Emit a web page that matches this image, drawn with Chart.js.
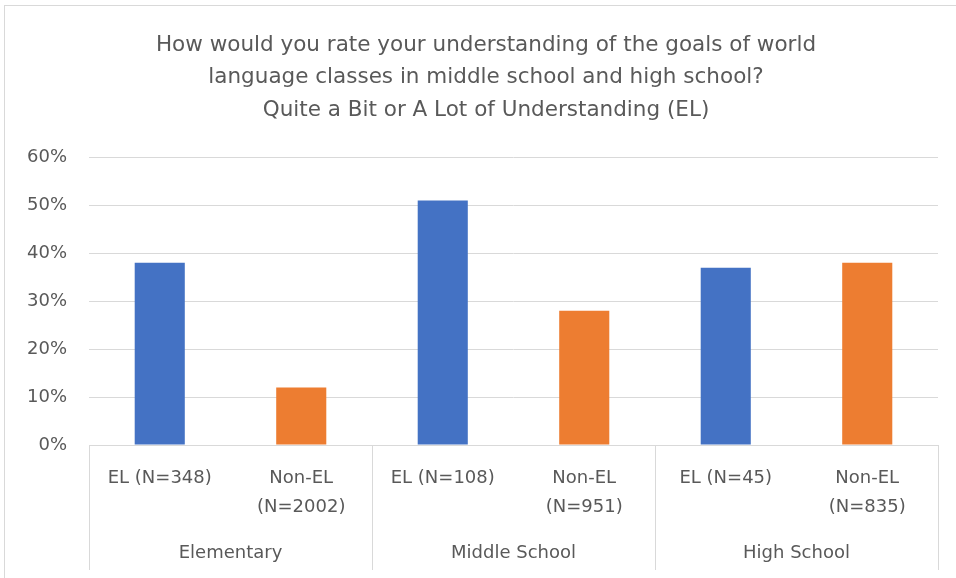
<!DOCTYPE html>
<html lang="en">
<head>
    <meta charset="UTF-8">
    <title>Understanding of world language goals (EL)</title>
    <script src="https://cdn.jsdelivr.net/npm/chart.js@4.4.1/dist/chart.umd.min.js"></script>
    <style>
        html, body {
            margin: 0;
            padding: 0;
            background: white;
            overflow: hidden;
        }
        .chart-box {
            position: absolute;
            left: 4px;
            top: 5px;
            width: 1000px;
            height: 620px;
            border: 1px solid #d9d9d9;
        }
    </style>
</head>
<body>
    <div class="chart-box">
        <canvas id="elChart" width="980" height="572"></canvas>
    </div>

    <script>
        // data
        const categories = [
            'EL (N=348)', ['Non-EL', '(N=2002)'],
            'EL (N=108)', ['Non-EL', '(N=951)'],
            'EL (N=45)', ['Non-EL', '(N=835)']
        ];
        const groups = ['Elementary', 'Middle School', 'High School'];
        const studentType = ['EL', 'Non-EL', 'EL', 'Non-EL', 'EL', 'Non-EL'];
        const values = [38, 12, 51, 28, 37, 38];
        const yTicks = [0, 10, 20, 30, 40, 50, 60];

        const typeColors = { 'EL': '#4472C4', 'Non-EL': '#ED7D31' };
        const textColor = '#595959';
        const fontFamily = '"DejaVu Sans", sans-serif';

        // vertical separators between the school groups
        const groupLines = {
            id: 'groupLines',
            afterDraw(chart) {
                const x = chart.scales.x;
                const x2 = chart.scales.x2;
                const ctx = chart.ctx;
                const per = categories.length / groups.length;
                ctx.save();
                ctx.strokeStyle = '#d9d9d9';
                ctx.lineWidth = 1;
                for (let g = 0; g <= groups.length; g++) {
                    let px;
                    if (g === 0) px = x.left;
                    else if (g === groups.length) px = x.right;
                    else px = (x.getPixelForTick(g * per - 1) + x.getPixelForTick(g * per)) / 2;
                    px = Math.round(px) + 0.5;
                    ctx.beginPath();
                    ctx.moveTo(px, chart.chartArea.bottom);
                    ctx.lineTo(px, x2.bottom + 6);
                    ctx.stroke();
                }
                ctx.restore();
            }
        };

        new Chart(document.getElementById('elChart'), {
            type: 'bar',
            data: {
                labels: categories,
                datasets: [{
                    data: values,
                    backgroundColor: studentType.map(t => typeColors[t]),
                    categoryPercentage: 1,
                    barPercentage: 0.354
                }]
            },
            options: {
                responsive: false,
                animation: false,
                layout: { padding: { left: 0, right: 18, top: 23, bottom: 14 } },
                plugins: {
                    legend: { display: false },
                    tooltip: { enabled: false },
                    title: {
                        display: true,
                        text: [
                            'How would you rate your understanding of the goals of world',
                            'language classes in middle school and high school?',
                            'Quite a Bit or A Lot of Understanding (EL)'
                        ],
                        color: textColor,
                        font: { family: fontFamily, size: 21.5, weight: 'normal', lineHeight: 1.51 },
                        padding: { top: 0, bottom: 31 }
                    }
                },
                scales: {
                    y: {
                        min: 0,
                        max: 60,
                        afterBuildTicks: s => { s.ticks = yTicks.map(v => ({ value: v })); },
                        afterFit: s => { s.width = 84; },
                        grid: { color: '#d9d9d9', drawTicks: false },
                        border: { display: false },
                        ticks: {
                            color: textColor,
                            padding: 22,
                            font: { family: fontFamily, size: 18 },
                            callback: v => v + '%'
                        }
                    },
                    // empty spacer on the right so the title centres like the original box
                    yR: {
                        position: 'right',
                        afterFit: s => { s.width = 29; },
                        grid: { display: false },
                        border: { display: false },
                        ticks: { display: false }
                    },
                    x: {
                        afterFit: s => { s.height = 80; },
                        grid: { display: false, drawTicks: false },
                        border: { display: true, color: '#d9d9d9' },
                        ticks: {
                            color: textColor,
                            padding: 18,
                            maxRotation: 0,
                            autoSkip: false,
                            font: { family: fontFamily, size: 18, lineHeight: 1.65 }
                        }
                    },
                    x2: {
                        type: 'category',
                        position: 'bottom',
                        labels: groups,
                        offset: true,
                        afterFit: s => { s.height = 39; },
                        grid: { display: false, drawTicks: false },
                        border: { display: false },
                        ticks: {
                            color: textColor,
                            padding: 18,
                            font: { family: fontFamily, size: 18 }
                        }
                    }
                }
            },
            plugins: [groupLines]
        });
    </script>
</body>
</html>
